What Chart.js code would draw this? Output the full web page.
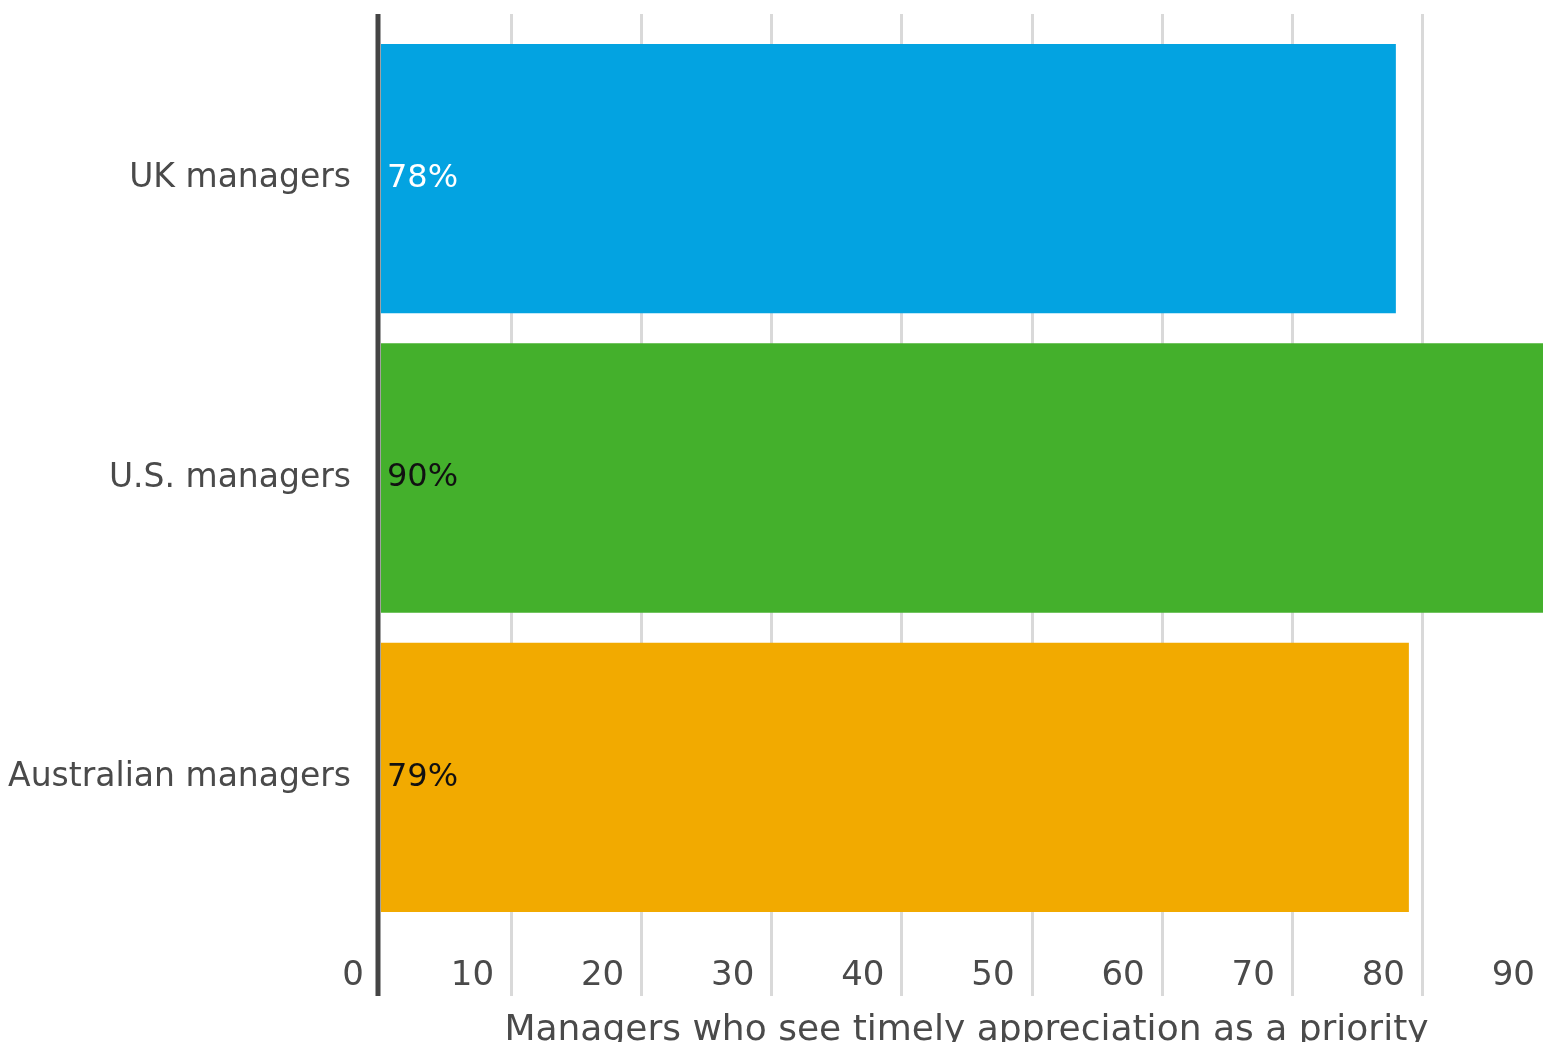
<!DOCTYPE html>
<html>
<head>
<meta charset="utf-8">
<title>Managers who see timely appreciation as a priority</title>
<script src="https://cdn.jsdelivr.net/npm/chart.js@4/dist/chart.umd.min.js"></script>
<style>
    html, body { margin: 0; padding: 0; background: #ffffff; overflow: hidden; }
    #chart-wrap { position: absolute; left: 0; top: 0; width: 1600px; height: 1070px; }
</style>
</head>
<body>
<div id="chart-wrap"><canvas id="appreciationChart"></canvas></div>
<script>
const categories = ['UK managers', 'U.S. managers', 'Australian managers'];
const shareValues = [78, 90, 79];
const valueLabels = ['78%', '90%', '79%'];
const axisTitle = 'Managers who see timely appreciation as a priority';
const axisMin = 0;
const axisMax = 90;
const axisStep = 10;

const barColors = ['#03a3e1', '#44b02c', '#f2aa00'];
const labelColors = ['#ffffff', '#111111', '#111111'];
const textGrey = '#4a4a4a';
const fontFamily = '"DejaVu Sans", sans-serif';

// grid lines + the thick left axis, drawn a bit past the chart area like the original
const gridPlugin = {
    id: 'gridPlugin',
    beforeDatasetsDraw(chart) {
        const { ctx, chartArea } = chart;
        const xScale = chart.scales.x;
        ctx.save();
        ctx.strokeStyle = '#d9d9d9';
        ctx.lineWidth = 3;
        xScale.ticks.forEach(tick => {
            if (tick.value === axisMin) return;
            const x = Math.round(xScale.getPixelForValue(tick.value)) + 0.5;
            ctx.beginPath();
            ctx.moveTo(x, chartArea.top - 15);
            ctx.lineTo(x, chartArea.bottom + 69);
            ctx.stroke();
        });
        ctx.restore();
    },
    afterDatasetsDraw(chart) {
        const { ctx, chartArea } = chart;
        const x0 = chart.scales.x.getPixelForValue(axisMin);
        ctx.save();
        ctx.strokeStyle = '#444444';
        ctx.lineWidth = 5;
        ctx.beginPath();
        ctx.moveTo(x0 - 3, chartArea.top - 15);
        ctx.lineTo(x0 - 3, chartArea.bottom + 69);
        ctx.stroke();

        // value labels at the start of each bar
        const meta = chart.getDatasetMeta(0);
        ctx.font = '32px ' + fontFamily;
        ctx.textAlign = 'left';
        ctx.textBaseline = 'middle';
        meta.data.forEach((bar, i) => {
            ctx.fillStyle = labelColors[i];
            ctx.fillText(valueLabels[i], bar.base + 6, bar.y);
        });
        ctx.restore();
    }
};

function drawChart() {
    const ctx = document.getElementById('appreciationChart').getContext('2d');

    new Chart(ctx, {
        type: 'bar',
        data: {
            labels: categories,
            datasets: [{
                data: shareValues,
                backgroundColor: barColors,
                borderWidth: 0,
                barPercentage: 0.9,
                categoryPercentage: 1.0
            }]
        },
        options: {
            indexAxis: 'y',
            responsive: true,
            maintainAspectRatio: false,
            animation: false,
            layout: { padding: { top: 29, right: 48, bottom: 0, left: 0 } },
            plugins: {
                legend: { display: false },
                tooltip: { enabled: false }
            },
            scales: {
                x: {
                    min: axisMin,
                    max: axisMax,
                    grid: { display: false, drawTicks: false },
                    border: { display: false },
                    ticks: {
                        stepSize: axisStep,
                        align: 'end',
                        labelOffset: -17,
                        padding: 29,
                        color: textGrey,
                        font: { family: fontFamily, size: 34 }
                    },
                    title: {
                        display: true,
                        text: axisTitle,
                        color: textGrey,
                        font: { family: fontFamily, size: 36 },
                        padding: { top: 0, bottom: 18 }
                    },
                    afterFit: scale => { scale.height = 143; }
                },
                y: {
                    grid: { display: false, drawTicks: false },
                    border: { display: false },
                    ticks: {
                        padding: 30,
                        color: textGrey,
                        font: { family: fontFamily, size: 33 }
                    },
                    afterFit: scale => {
                        scale.width = 381;
                        // don't let the label half-heights push the chart area down
                        scale.paddingTop = 0;
                        scale.paddingBottom = 0;
                    }
                }
            }
        },
        plugins: [gridPlugin]
    });
}

document.addEventListener('DOMContentLoaded', drawChart);
</script>
</body>
</html>
